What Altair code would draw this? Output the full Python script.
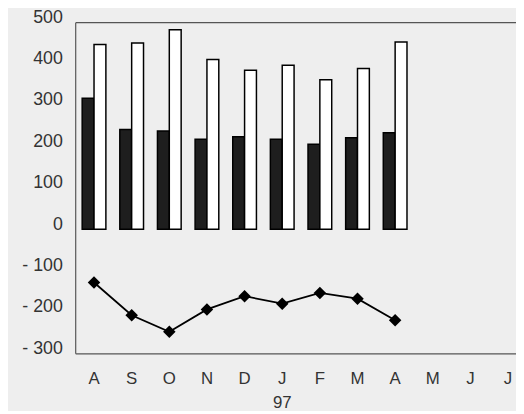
import json
import altair as alt
import pandas as pd

# month keys (unique) and their printed labels
months = ["Aug", "Sep", "Oct", "Nov", "Dec", "Jan", "Feb", "Mar", "Apr", "May", "Jun", "Jul"]
month_labels = ["A", "S", "O", "N", "D", "J", "F", "M", "A", "M", "J", "J"]
year_label = "97"

# series values (first nine months have data)
dark_values = [316, 241, 237, 217, 223, 217, 205, 221, 233]
white_values = [446, 450, 482, 410, 384, 396, 361, 388, 452]
line_values = [-129, -208, -248, -194, -162, -180, -154, -168, -220]

y_ticks = [-300, -200, -100, 0, 100, 200, 300, 400, 500]

bars = pd.DataFrame(
    [{"month": m, "series": "dark", "value": v} for m, v in zip(months, dark_values)]
    + [{"month": m, "series": "white", "value": v} for m, v in zip(months, white_values)]
)
line_df = pd.DataFrame({"month": months[: len(line_values)], "value": line_values})

FONT = "Liberation Sans"
TXT = "#333333"

label_expr = (
    f"datum.value == 'Jan' ? ['J', '{year_label}'] : "
    f"{json.dumps(month_labels)}[indexof({json.dumps(months)}, datum.value)]"
)

x_scale = alt.Scale(domain=months, range=[0, 457], paddingInner=0.37, paddingOuter=0.185)
y_scale = alt.Scale(domain=[-300, 500], nice=False, zero=False)

x_axis = alt.Axis(
    title=None, labelExpr=label_expr, labelAngle=0, ticks=False,
    labelPadding=18, labelFontSize=17, labelFont=FONT, labelColor=TXT,
    labelLineHeight=24, domainColor="#555555", domainWidth=1.2, grid=False,
    labelBaseline="top",
)
y_axis = alt.Axis(
    title=None, values=y_ticks, ticks=False, labelPadding=13,
    labelFontSize=18, labelFont=FONT, labelColor=TXT, labelOffset=-5,
    labelExpr="datum.value < 0 ? '- ' + (-datum.value) : '' + datum.value",
    domainColor="#555555", domainWidth=1.2,
    grid=True, gridColor="#555555", gridWidth=1.2,
    gridOpacity={"condition": {"test": "datum.value == 500", "value": 1}, "value": 0},
)

bar_layer = alt.Chart(bars).mark_bar(stroke="black", strokeWidth=1.5, clip=True).encode(
    x=alt.X("month:N", scale=x_scale, axis=x_axis, sort=months),
    xOffset=alt.XOffset("series:N", scale=alt.Scale(domain=["dark", "white"], paddingInner=0, paddingOuter=0)),
    y=alt.Y("value:Q", scale=y_scale, axis=y_axis),
    color=alt.Color("series:N", scale=alt.Scale(domain=["dark", "white"], range=["#1e1e1e", "#ffffff"]), legend=None),
)

line_layer = alt.Chart(line_df).mark_line(
    color="black", strokeWidth=1.8, clip=True,
    point=alt.OverlayMarkDef(shape="diamond", filled=True, color="black", size=160),
).encode(
    x=alt.X("month:N", scale=x_scale, sort=months),
    y=alt.Y("value:Q", scale=y_scale),
)

chart = (
    alt.layer(bar_layer, line_layer)
    .properties(
        width=446,
        height=335,
        autosize=alt.AutoSizeParams(type="none"),
        padding={"left": 68, "top": 12, "right": 0, "bottom": 56},
        background="#eeeeee",
    )
    .configure_view(stroke=None)
)

chart.save("out.html", embed_options={"renderer": "svg", "actions": False})
